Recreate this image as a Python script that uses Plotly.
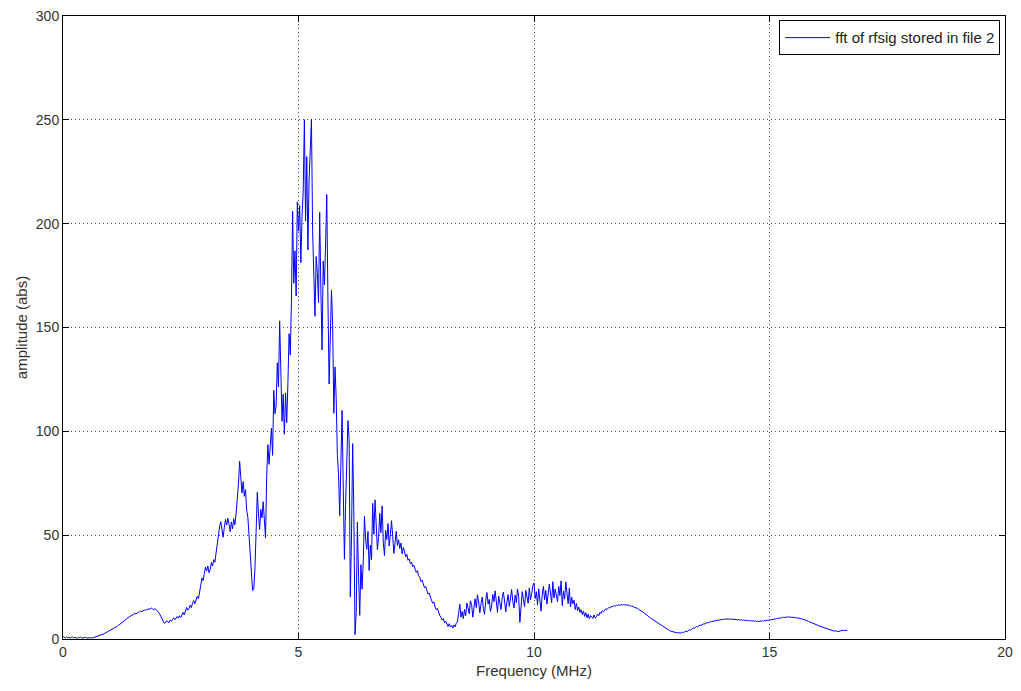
import numpy as np
import plotly.graph_objects as go

# FFT bin spacing (MHz)
freq_step = 0.025

# amplitude (abs) per bin, in 0.5 MHz blocks
amp_low = [  # 0 - 3 MHz
    1.2, 0.8, 0.5, 1.0, 0.6, 0.9, 0.4, 0.7, 1.1, 0.5, 0.6, 0.8, 0.3, 0.7, 0.5, 0.9, 0.4, 0.6, 0.5, 0.8,
    0.5, 0.6, 0.4, 0.5, 0.6, 0.5, 0.7, 0.6, 0.8, 1.0, 1.2, 1.5, 1.7, 2.0, 2.3, 2.6, 2.9, 3.1, 3.4, 3.7,
    4.0, 4.4, 4.7, 5.0, 5.4, 5.8, 6.1, 6.5, 7.0, 7.4, 7.9, 8.3, 8.8, 9.2, 9.7, 10.1, 10.6, 10.9, 11.3, 11.7,
    12.0, 12.3, 12.1, 12.6, 12.9, 13.1, 13.4, 13.2, 13.7, 14.0, 13.8, 14.3, 14.1, 14.6, 14.4, 14.9, 14.5, 14.0, 14.7, 14.2,
    13.5, 13.0, 12.1, 11.0, 9.8, 8.7, 7.6, 7.9, 8.8, 8.2, 7.9, 9.1, 8.6, 9.4, 10.2, 9.3, 9.9, 10.8, 10.0, 11.2,
    10.4, 11.9, 12.8, 11.6, 13.5, 15.2, 13.9, 14.6, 16.3, 15.1, 17.2, 18.5, 17.0, 19.1, 20.6, 19.4, 22.0, 25.8, 29.4, 28.1,
]
amp_peak = [  # 3 - 7 MHz
    31.5, 34.6, 32.8, 35.2, 31.9, 33.4, 36.8, 35.1, 38.2, 37.0, 41.5, 46.8, 50.2, 54.1, 56.5, 52.3, 49.0, 53.8, 57.6, 54.9,
    58.2, 55.3, 51.7, 56.4, 53.1, 57.9, 55.0, 60.2, 66.8, 74.5, 85.6, 77.2, 70.3, 75.8, 68.7, 71.9, 62.0, 58.5, 49.3, 40.2,
    26.8, 23.4, 24.1, 33.5, 51.8, 70.6, 60.2, 52.7, 62.4, 58.3, 66.1, 55.9, 48.7, 78.3, 93.6, 84.1, 96.0, 101.5, 88.4, 119.8,
    108.5, 112.3, 133.0, 121.4, 153.2, 126.3, 104.8, 117.9, 98.6, 118.5, 104.2, 123.1, 147.0, 136.8, 162.4, 206.0, 171.3, 186.9, 165.2, 210.5,
    196.4, 208.7, 181.2, 203.5, 215.6, 250.1, 201.3, 232.3, 187.4, 221.0, 235.2, 250.3, 196.1, 170.8, 155.4, 184.2, 176.5, 162.0, 205.4, 168.3,
    139.2, 182.0, 170.5, 190.2, 214.0, 163.1, 122.8, 145.4, 168.0, 151.3, 108.7, 131.0, 116.2, 88.3, 79.5, 59.4, 96.2, 110.1, 72.6, 38.4,
    64.9, 88.0, 105.2, 96.0, 20.3, 48.7, 94.1, 61.2, 2.1, 12.6, 56.3, 30.2, 11.4, 35.8, 24.0, 37.5, 59.1, 48.2, 43.2, 51.8,
    33.0, 45.1, 38.2, 65.3, 50.4, 67.0, 55.2, 43.1, 48.8, 60.5, 51.2, 64.1, 46.7, 40.2, 52.3, 47.9, 55.6, 44.8, 50.1, 57.0,
]
amp_mid = [  # 7 - 11 MHz
    49.5, 41.2, 46.3, 51.9, 45.0, 47.8, 43.6, 46.2, 41.0, 44.1, 42.3, 39.5, 40.8, 37.9, 38.6, 36.2, 37.0, 34.8, 35.5, 33.6,
    32.1, 32.9, 30.4, 29.8, 27.6, 28.3, 25.9, 24.7, 25.3, 22.8, 21.6, 22.2, 19.8, 18.5, 17.2, 17.9, 15.4, 14.1, 14.8, 12.6,
    11.3, 10.5, 9.1, 9.8, 7.9, 8.6, 7.2, 6.0, 7.4, 5.8, 6.5, 5.2, 6.8, 5.9, 7.6, 8.3, 12.4, 16.8, 10.5, 13.2,
    9.8, 14.2, 11.2, 17.3, 15.0, 12.1, 18.4, 16.7, 10.5, 13.9, 19.4, 15.1, 21.3, 17.8, 12.6, 16.9, 20.2, 14.7, 11.9, 18.6,
    22.4, 16.8, 19.1, 13.3, 15.9, 21.5, 18.0, 23.2, 17.4, 12.8, 20.7, 16.0, 14.2, 19.8, 22.6, 18.3, 13.1, 17.9, 21.4, 15.7,
    19.6, 23.8, 18.1, 14.9, 21.2, 17.5, 24.1, 20.3, 8.0, 16.4, 22.8, 19.0, 15.6, 23.5, 20.1, 17.2, 24.6, 18.8, 21.9, 25.7,
    27.0, 19.5, 22.8, 16.3, 24.2, 20.0, 13.4, 21.6, 25.3, 18.9, 23.4, 16.8, 20.7, 26.4, 22.1, 17.5, 27.6, 19.8, 24.0, 21.2,
    18.0, 25.3, 20.9, 28.0, 16.1, 23.0, 19.2, 27.5, 21.8, 17.0, 24.5, 15.4, 20.1, 16.9, 18.7, 14.2, 17.1, 13.6, 15.4, 12.8,
]
amp_tail = [  # 11 - 16.65 MHz
    14.1, 11.8, 13.5, 10.9, 12.7, 10.2, 12.0, 9.8, 11.3, 10.5, 9.9, 11.6, 10.1, 10.8, 12.0, 11.2, 12.9, 12.3, 13.6, 13.1,
    14.0, 14.6, 14.2, 15.1, 15.4, 15.0, 15.8, 15.5, 16.1, 15.8, 16.3, 16.0, 16.5, 16.2, 16.6, 16.3, 16.7, 16.4, 16.5, 16.2,
    16.4, 16.0, 16.1, 15.7, 15.8, 15.3, 15.2, 14.8, 14.7, 14.2, 14.0, 13.5, 13.2, 12.7, 12.4, 11.9, 11.5, 11.0, 10.6, 10.1,
    9.7, 9.3, 8.9, 8.6, 8.1, 7.8, 7.3, 7.0, 6.5, 6.2, 5.8, 5.4, 5.1, 4.7, 4.4, 4.1, 3.8, 3.6, 3.4, 3.2,
    3.1, 3.0, 2.9, 3.1, 2.8, 3.0, 3.3, 3.1, 3.5, 3.8, 3.6, 4.1, 4.5, 4.3, 4.9, 5.3, 5.1, 5.7, 6.0, 5.9,
    6.4, 6.7, 6.6, 7.1, 7.3, 7.2, 7.6, 7.9, 7.8, 8.2, 8.4, 8.3, 8.6, 8.8, 8.7, 9.0, 9.1, 9.0, 9.3, 9.4,
    9.3, 9.6, 9.5, 9.7, 9.6, 9.8, 9.5, 9.7, 9.4, 9.6, 9.5, 9.3, 9.5, 9.2, 9.4, 9.1, 9.3, 9.0, 9.2, 8.9,
    9.1, 8.8, 9.0, 8.7, 8.9, 8.6, 8.8, 8.5, 8.7, 8.4, 8.6, 8.3, 8.7, 8.5, 8.8, 8.6, 9.0, 8.8, 9.1, 9.0,
    9.3, 9.1, 9.5, 9.3, 9.7, 9.6, 9.9, 9.8, 10.1, 10.0, 10.3, 10.2, 10.5, 10.3, 10.6, 10.4, 10.7, 10.5, 10.6, 10.4,
    10.5, 10.3, 10.4, 10.1, 10.2, 9.9, 10.0, 9.7, 9.6, 9.3, 9.2, 8.9, 8.8, 8.5, 8.3, 8.0, 7.8, 7.5, 7.3, 7.0,
    6.8, 6.6, 6.3, 6.1, 5.8, 5.7, 5.4, 5.3, 5.0, 4.9, 4.6, 4.5, 4.3, 4.1, 4.0, 3.8, 3.9, 3.7, 3.8, 3.6,
    3.9, 4.1, 4.0, 4.2, 4.1, 4.3, 4.2,
]

x_ticks = [0, 5, 10, 15, 20]
y_ticks = [0, 50, 100, 150, 200, 250, 300]
series_name = "fft of rfsig stored in file 2"

amplitude = np.array(amp_low + amp_peak + amp_mid + amp_tail)
frequency = np.arange(len(amplitude)) * freq_step

FONT = "Liberation Sans, Arial, sans-serif"

fig = go.Figure()
fig.add_trace(go.Scatter(
    x=frequency, y=amplitude, mode="lines", name=series_name,
    line=dict(color="#0000ff", width=1),
))

axis_common = dict(
    showline=True, linecolor="#000000", linewidth=1, mirror="ticks",
    ticks="inside", ticklen=6, tickcolor="#000000",
    showgrid=True, gridcolor="#555555", griddash="1px,3px", gridwidth=1,
    zeroline=False,
    tickfont=dict(family=FONT, size=14, color="#333333"),
)

fig.update_xaxes(range=[0, 20], tickvals=x_ticks,
                 title=dict(text="Frequency (MHz)", standoff=6,
                            font=dict(family=FONT, size=15, color="#333333")),
                 **axis_common)
fig.update_yaxes(range=[0, 300], tickvals=y_ticks,
                 title=dict(text="amplitude (abs)", standoff=4,
                            font=dict(family=FONT, size=15, color="#333333")),
                 **axis_common)

fig.update_layout(
    width=1021, height=691,
    margin=dict(l=63, r=8, t=11, b=52),
    paper_bgcolor="#ffffff", plot_bgcolor="#ffffff",
    showlegend=True,
    legend=dict(
        x=0.995, y=0.993, xanchor="right", yanchor="top",
        bgcolor="#ffffff", bordercolor="#000000", borderwidth=1,
        font=dict(family=FONT, size=15, color="#222222"),
        itemwidth=45,
    ),
)

fig.write_html("out.html")
